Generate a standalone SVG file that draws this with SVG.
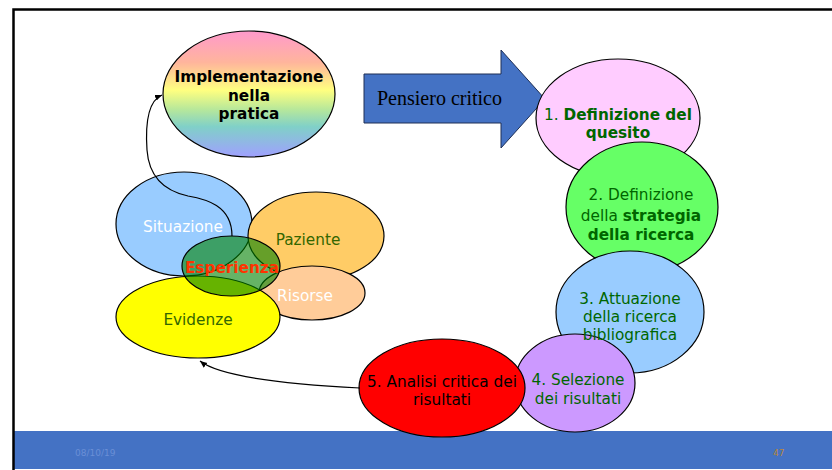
<svg xmlns="http://www.w3.org/2000/svg" width="832" height="470" viewBox="0 0 832 470">
<defs>
<linearGradient id="rainbow" x1="0" y1="0" x2="0" y2="1">
<stop offset="0" stop-color="#ff99cc"/>
<stop offset="0.25" stop-color="#ffb59c"/>
<stop offset="0.47" stop-color="#ffff80"/>
<stop offset="0.62" stop-color="#b8e89a"/>
<stop offset="0.76" stop-color="#80d0c8"/>
<stop offset="1" stop-color="#a0a0ff"/>
</linearGradient>
<marker id="ah" markerWidth="8" markerHeight="8" refX="7" refY="4" orient="auto" markerUnits="userSpaceOnUse">
<path d="M0,1 L7,4 L0,7 Z" fill="#000"/>
</marker>
<style>
.e{stroke:#000;stroke-width:1.2}
.t{font-family:"DejaVu Sans",Verdana,sans-serif;font-size:15.3px;text-anchor:middle}
.g{fill:#006600}
.b{font-weight:bold}
.conn{fill:none;stroke:#000;stroke-width:1.2}
</style>
</defs>
<rect x="0" y="0" width="832" height="470" fill="#ffffff"/>
<rect x="14" y="431" width="818" height="38" fill="#4472c4"/>
<path d="M13.5,470 L13.5,9.5 L832,9.5" fill="none" stroke="#000" stroke-width="2.5"/>
<text x="75" y="456" font-family="'DejaVu Sans',sans-serif" font-size="9" fill="#6a8fd6">08/10/19</text>
<text x="773" y="456" font-family="'DejaVu Sans',sans-serif" font-size="9" fill="#b8863b">47</text>

<g id="implementazione">
<ellipse class="e" cx="249" cy="94" rx="86" ry="63" fill="url(#rainbow)"/>
<text class="t b" x="249" y="82" fill="#000">Implementazione</text>
<text class="t b" x="249" y="101" fill="#000">nella</text>
<text class="t b" x="249" y="119" fill="#000">pratica</text>
</g>

<g id="pensiero">
<path d="M364,74 L501,74 L501,50 L545,99 L501,148 L501,123 L364,123 Z" fill="#4472c4" stroke="#1f2f55" stroke-width="1"/>
<text x="377" y="105" font-family="'Liberation Serif','Times New Roman',serif" font-size="20" fill="#000">Pensiero critico</text>
</g>

<g id="step1">
<ellipse class="e" cx="618" cy="118" rx="82" ry="59" fill="#ffccff"/>
</g>
<g id="step2">
<ellipse class="e" cx="642" cy="207" rx="76" ry="65" fill="#66ff66"/>
</g>
<g id="step3">
<ellipse class="e" cx="630" cy="312" rx="74" ry="61" fill="#99ccff"/>
</g>
<g id="step4">
<ellipse class="e" cx="575" cy="383" rx="60" ry="49" fill="#cc99ff"/>
</g>
<g id="step5">
<ellipse class="e" cx="442" cy="388" rx="83" ry="49" fill="#ff0000"/>
</g>

<g id="labels">
<text class="t g" x="618" y="120"><tspan>1. </tspan><tspan class="b">Definizione del</tspan></text>
<text class="t g b" x="618" y="138">quesito</text>
<text class="t g" x="641" y="200">2. Definizione</text>
<text class="t g" x="641" y="221">della <tspan class="b">strategia</tspan></text>
<text class="t g b" x="641" y="240">della ricerca</text>
<text class="t g" x="630" y="304">3. Attuazione</text>
<text class="t g" x="630" y="322">della ricerca</text>
<text class="t g" x="630" y="340">bibliografica</text>
<text class="t g" x="578" y="385">4. Selezione</text>
<text class="t g" x="578" y="404">dei risultati</text>
<text class="t" x="442" y="387" fill="#000">5. Analisi critica dei</text>
<text class="t" x="442" y="405" fill="#000">risultati</text>
</g>

<g id="situazione">
<ellipse class="e" cx="184" cy="224" rx="68" ry="52" fill="#99ccff"/>
<text class="t" x="183" y="232" fill="#ffffff" font-size="16">Situazione</text>
</g>
<g id="paziente">
<ellipse class="e" cx="316" cy="236" rx="68" ry="44" fill="#ffcc66"/>
<text class="t" x="308" y="245" fill="#336600" font-size="16">Paziente</text>
</g>
<g id="risorse">
<ellipse class="e" cx="312" cy="293" rx="53" ry="27" fill="#ffcc99"/>
<text class="t" x="305" y="301" fill="#ffffff" font-size="16">Risorse</text>
</g>
<g id="evidenze">
<ellipse class="e" cx="198" cy="317" rx="82" ry="41" fill="#ffff00"/>
<text class="t" x="198" y="325" fill="#336600" font-size="16">Evidenze</text>
</g>

<g id="connectors">
<path class="conn" d="M232,236 C232,205 205,199 188,196 C165,191 149,178 147,150 C145,120 150,100 162,95" marker-end="url(#ah)"/>
<path class="conn" d="M360,388 C300,385 222,378 200,361" marker-end="url(#ah)"/>
</g>

<g id="esperienza">
<ellipse class="e" cx="231" cy="266" rx="49" ry="30" fill="#008000" fill-opacity="0.6"/>
<text class="t b" x="232" y="273" fill="#ff3300" font-size="15">Esperienza</text>
</g>
</svg>
